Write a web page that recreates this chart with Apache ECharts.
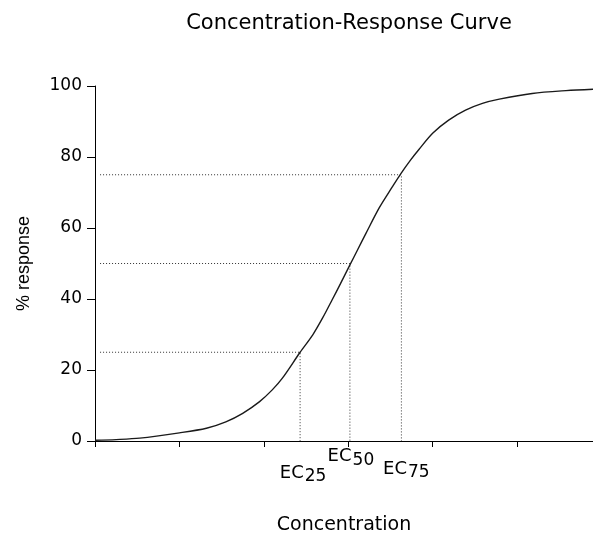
<!DOCTYPE html>
<html>
<head>
<meta charset="utf-8">
<script src="https://cdn.jsdelivr.net/npm/echarts@6/dist/echarts.min.js"></script>
<style>html,body{margin:0;padding:0;background:#fff}#c{width:593px;height:533px}</style>
</head>
<body>
<div id="c"></div>
<script>
// Curve (x in axis tick units, y in % response)
const concentration = [0.0, 0.25, 0.53, 1.0, 1.32, 1.55, 1.75, 1.95, 2.10, 2.22, 2.43, 2.58, 2.70, 2.81, 2.91, 3.02, 3.11, 3.21, 3.37, 3.52, 3.62, 3.74, 3.84, 4.00, 4.19, 4.39, 4.59, 4.79, 5.18, 5.58, 5.90];
const response      = [0.2, 0.4, 0.8, 2.3, 3.6, 5.4, 7.8, 11.1, 14.4, 17.7, 25, 29.9, 34.8, 39.8, 44.4, 49.6, 53.8, 58.5, 65.8, 71.5, 75.2, 79.2, 82.2, 86.7, 90.4, 93.2, 95.1, 96.3, 97.9, 98.7, 99.1];
// EC markers
const ecLevels = [25, 50, 75];
const ecConc   = [2.43, 3.02, 3.63];
const ecSubs   = ['25', '50', '75'];
const yTicks   = [0, 20, 40, 60, 80, 100];

const FONT = 'DejaVu Sans';
const labelOffsets = [[3, 24], [1, 7.5], [5, 20]];

const series = [{
  type: 'line',
  data: concentration.map((c, i) => [c, response[i]]),
  smooth: 0.3,
  showSymbol: false,
  lineStyle: { color: '#1a1a1a', width: 1.4 },
  z: 5
}];
ecLevels.forEach((lvl, i) => {
  series.push({
    type: 'line',
    data: [[0.06, lvl], [ecConc[i], lvl], [ecConc[i], 0]],
    showSymbol: false,
    lineStyle: { color: '#333', width: 1, type: [1, 2] },
    z: 3
  });
});
series.push({
  type: 'scatter',
  symbolSize: 0,
  data: ecConc.map((c, i) => ({
    value: [c, 0],
    label: { offset: labelOffsets[i], formatter: '{m|EC}{s|' + ecSubs[i] + '}' }
  })),
  label: {
    show: true,
    position: 'bottom',
    distance: 0,
    color: '#000',
    rich: {
      m: { fontFamily: FONT, fontSize: 18, lineHeight: 20, padding: [0, 1, 4, 0], color: '#000' },
      s: { fontFamily: FONT, fontSize: 17, lineHeight: 20, padding: [4, 0, 0, 0], color: '#000' }
    }
  },
  itemStyle: { opacity: 1 },
  silent: true,
  z: 6
});

const chart = echarts.init(document.getElementById('c'), null, { renderer: 'canvas' });
chart.setOption({
  animation: false,
  backgroundColor: '#fff',
  title: {
    text: 'Concentration-Response Curve',
    left: 344,
    textAlign: 'center',
    top: 8,
    textStyle: { fontFamily: FONT, fontSize: 21, fontWeight: 'normal', color: '#000' }
  },
  grid: { left: 95, right: 0, top: 86, bottom: 92, containLabel: false, outerBoundsMode: 'none' },
  xAxis: {
    type: 'value',
    min: 0, max: 5.9, interval: 1,
    name: 'Concentration',
    nameLocation: 'middle',
    nameGap: 75,
    nameTextStyle: { fontFamily: FONT, fontSize: 19, color: '#000' },
    axisLine: { show: true, onZero: false, lineStyle: { color: '#000', width: 1 } },
    axisTick: { show: true, length: 6, lineStyle: { color: '#000' } },
    axisLabel: { show: false },
    splitLine: { show: false }
  },
  yAxis: {
    type: 'value',
    min: yTicks[0], max: yTicks[yTicks.length - 1], interval: yTicks[1] - yTicks[0],
    name: '% response',
    nameLocation: 'middle',
    nameGap: 62,
    nameTextStyle: { fontFamily: 'Liberation Sans', fontSize: 18, color: '#000' },
    axisLine: { show: true, lineStyle: { color: '#000', width: 1 } },
    axisTick: { show: true, length: 8, lineStyle: { color: '#000' } },
    axisLabel: { fontFamily: FONT, fontSize: 17, color: '#000', margin: 13 },
    splitLine: { show: false }
  },
  series: series
});
</script>
</body>
</html>
